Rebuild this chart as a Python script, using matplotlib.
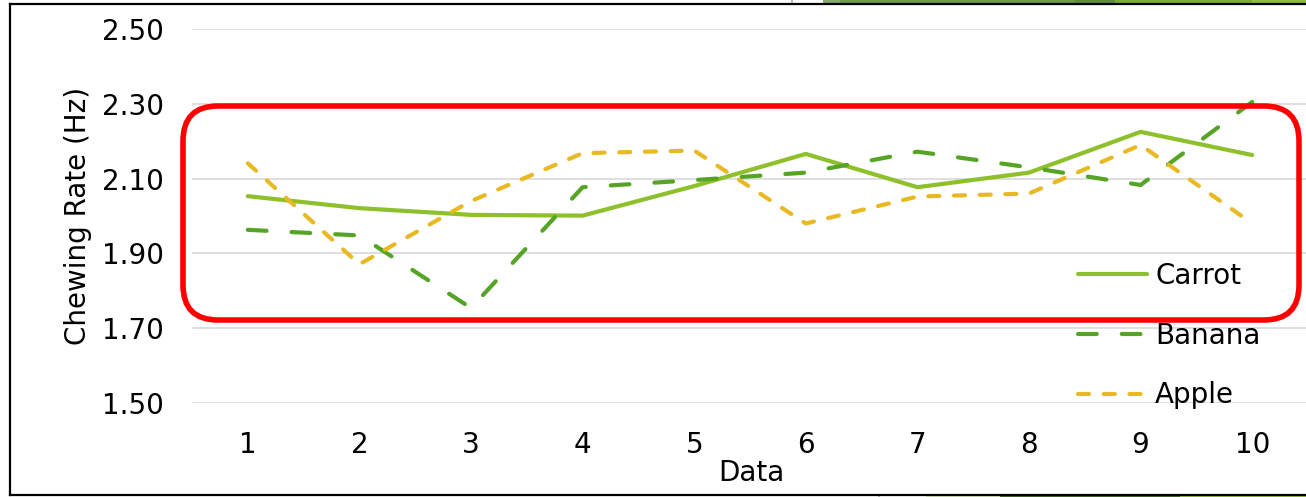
import matplotlib
matplotlib.use("Agg")
import matplotlib.pyplot as plt
from matplotlib.patches import FancyBboxPatch, Rectangle
from matplotlib.lines import Line2D

# Chewing-rate measurements for each food
samples = [1, 2, 3, 4, 5, 6, 7, 8, 9, 10]
carrot = [2.053, 2.021, 2.003, 2.001, 2.080, 2.166, 2.077, 2.116, 2.225, 2.163]
banana = [1.963, 1.948, 1.754, 2.077, 2.096, 2.116, 2.172, 2.130, 2.083, 2.305]
apple = [2.141, 1.871, 2.040, 2.168, 2.175, 1.980, 2.052, 2.060, 2.190, 1.980]
series_names = ["Carrot", "Banana", "Apple"]
y_ticks = [1.50, 1.70, 1.90, 2.10, 2.30, 2.50]

W, H, DPI = 1306, 497, 100
plt.rcParams["font.family"] = ["DejaVu Sans"]
plt.rcParams["lines.scale_dashes"] = False

fig = plt.figure(figsize=(W / DPI, H / DPI), dpi=DPI)
ax = fig.add_axes([192 / W, (H - 403) / H, 1116 / W, 374 / H])

def px(x, y):
    """Pixel position (from top-left) to inches for dpi_scale_trans."""
    return x / DPI, (H - y) / DPI

ax.plot(samples, carrot, color="#8DC02B", lw=3.0, solid_capstyle="round",
        solid_joinstyle="round", label=series_names[0], zorder=3)
ax.plot(samples, banana, color="#56A426", lw=3.0, dashes=(13.5, 18),
        dash_capstyle="round", label=series_names[1], zorder=3)
ax.plot(samples, apple, color="#E8B922", lw=3.0, dashes=(8, 10.5),
        dash_capstyle="round", label=series_names[2], zorder=3)

ax.set_xlim(0.5, 10.5)
ax.set_ylim(1.50, 2.50)
ax.set_yticks(y_ticks)
ax.set_yticklabels([f"{v:.2f}" for v in y_ticks])
ax.set_xticks(samples)
ax.grid(axis="y", color="#D9D9D9", lw=1.2, zorder=0)
ax.set_axisbelow(True)
for s in ax.spines.values():
    s.set_visible(False)
ax.tick_params(axis="both", length=0, labelsize=20, colors="black")
ax.tick_params(axis="y", pad=20)
ax.tick_params(axis="x", pad=20)

ax.set_ylabel("Chewing Rate (Hz)", fontsize=20, va="center")
ax.yaxis.set_label_coords((78 - 192) / 1116, 0.5)
ax.set_xlabel("Data", fontsize=20, va="center")
ax.xaxis.set_label_coords((751 - 192) / 1116, (403 - 473) / 374)

ax.legend(loc="upper left", bbox_to_anchor=(1078 / W, (H - 262) / H),
          bbox_transform=fig.transFigure, frameon=False, fontsize=20,
          borderpad=0, borderaxespad=0, handlelength=2.5,
          handletextpad=0.28, labelspacing=1.14)

# Chart frame
frame_kw = dict(transform=fig.dpi_scale_trans, color="black", lw=1.6)
fig.add_artist(Line2D(*zip(px(10, 4.3), px(W + 5, 4.3)), **frame_kw))
fig.add_artist(Line2D(*zip(px(10, 4.3), px(10, 494.5)), **frame_kw))
fig.add_artist(Line2D(*zip(px(10, 494.5), px(W + 5, 494.5)), **frame_kw))

# Neighbouring shapes peeking in at the top and bottom edges
edge_bits = [
    (791, 0, 1.5, 3.5, "#BBBBBB"),
    (823, 0, 17, 3.3, "#86A86A"),
    (840, 0, 235, 3.3, "#6E9A4C"),
    (1075, 0, 40, 3.3, "#5E8E3C"),
    (1115, 0, 137, 3.3, "#7BAE2E"),
    (1252, 0, 54, 3.3, "#8DBE3A"),
    (878, 495.8, 1.5, 1.5, "#BBBBBB"),
    (926, 495.8, 74, 1.5, "#D7E6B8"),
    (1000, 495.8, 180, 1.5, "#4C6A2C"),
    (1180, 495.8, 126, 1.5, "#9ABF45"),
]
for x0, y0, w, h, c in edge_bits:
    fig.add_artist(Rectangle(px(x0, y0 + h), w / DPI, h / DPI,
                             transform=fig.dpi_scale_trans, color=c, lw=0))

# Highlight box around the main band of values
x0, y0, x1, y1 = 183, 106, 1299, 320
fig.add_artist(FancyBboxPatch(px(x0, y1), (x1 - x0) / DPI, (y1 - y0) / DPI,
                              boxstyle="round,pad=0,rounding_size=0.35",
                              transform=fig.dpi_scale_trans, fill=False,
                              edgecolor="#FF0000", lw=4.0, zorder=10))

fig.savefig("out.png", dpi=DPI, facecolor="white")
